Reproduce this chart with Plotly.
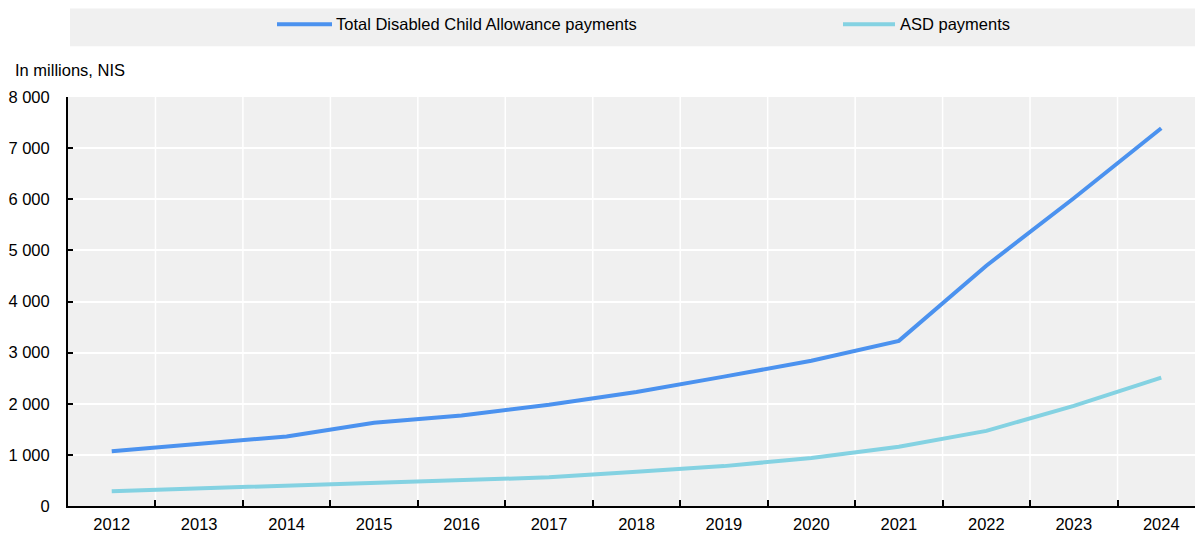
import plotly.graph_objects as go

years = ["2012", "2013", "2014", "2015", "2016", "2017", "2018",
         "2019", "2020", "2021", "2022", "2023", "2024"]
total_payments = [1070, 1220, 1360, 1630, 1770, 1980, 2230,
                  2530, 2840, 3230, 4700, 6020, 7390]
asd_payments = [290, 345, 400, 460, 500, 560, 670,
                780, 940, 1160, 1470, 1960, 2510]

series_names = ["Total Disabled Child Allowance payments", "ASD payments"]
series_colors = ["#4b92ef", "#84d2e2"]

W, H = 1195, 533
ML, MR, MT, MB = 68, 0, 97, 25
FONT = "Liberation Sans Narrow, Arial Narrow, Liberation Sans, Arial, sans-serif"
FS = 16.5


def px(x):
    return (x - ML) / (W - ML - MR)


def py(y):
    return (H - MB - y) / (H - MT - MB)


fig = go.Figure()
for name, vals, col in zip(series_names, [total_payments, asd_payments], series_colors):
    fig.add_trace(go.Scatter(x=years, y=vals, mode="lines", name=name,
                             line=dict(color=col, width=4), showlegend=False))

# legend drawn as a grey band with line samples
shapes = [dict(type="rect", xref="paper", yref="paper", x0=px(70), x1=px(1195),
               y0=py(46), y1=py(8), fillcolor="#f0f0f0", line=dict(width=0), layer="below")]
annotations = []
for (lx0, lx1, tx), name, col in zip([(277, 332, 334), (843, 895, 898)], series_names, series_colors):
    shapes.append(dict(type="line", xref="paper", yref="paper", x0=px(lx0), x1=px(lx1),
                       y0=py(24), y1=py(24), line=dict(color=col, width=4)))
    annotations.append(dict(xref="paper", yref="paper", x=px(tx), y=py(24), text=name,
                            showarrow=False, xanchor="left", yanchor="middle",
                            font=dict(size=FS, color="#000000", family=FONT)))
annotations.append(dict(xref="paper", yref="paper", x=px(13), y=py(70), text="In millions, NIS",
                        showarrow=False, xanchor="left", yanchor="middle",
                        font=dict(size=FS, color="#000000", family=FONT)))

# vertical white gridlines at year boundaries
for i in range(13):
    shapes.append(dict(type="line", xref="x", yref="paper", x0=i + 0.5, x1=i + 0.5,
                       y0=0, y1=1, line=dict(color="white", width=1.5), layer="below"))

fig.update_layout(
    width=W, height=H,
    margin=dict(l=ML, r=MR, t=MT, b=MB, pad=0),
    paper_bgcolor="white", plot_bgcolor="#f0f0f0",
    font=dict(family=FONT, size=FS, color="#000000"),
    separators=". ",
    shapes=shapes, annotations=annotations,
    showlegend=False,
)
fig.update_xaxes(
    type="category", range=[-0.5, 12.386],
    showgrid=False, showline=True, linecolor="black", linewidth=2,
    ticks="inside", ticklen=6, tickwidth=1.5, tickcolor="black",
    tickson="boundaries", zeroline=False, ticklabelstandoff=2,
)
fig.update_yaxes(
    range=[0, 8000], dtick=1000, tickformat=",",
    showgrid=True, gridcolor="white", gridwidth=1.5,
    showline=True, linecolor="black", linewidth=2,
    ticks="inside", ticklen=5, tickwidth=1.5, tickcolor="black",
    ticklabelstandoff=13, zeroline=False,
)
fig.write_html("out.html")
